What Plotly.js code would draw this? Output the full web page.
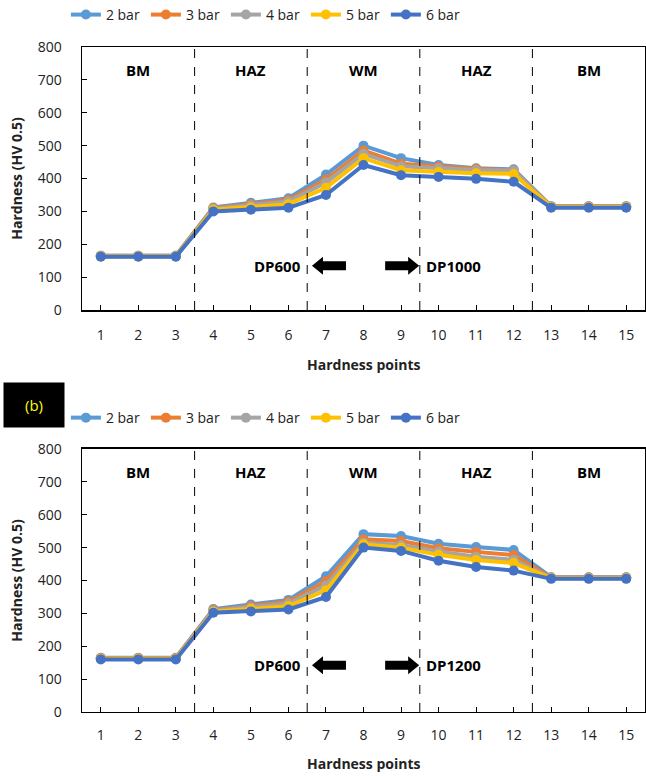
<!DOCTYPE html>
<html>
<head>
<meta charset="utf-8">
<script src="https://cdn.plot.ly/plotly-3.0.1.min.js"></script>
<style>html,body{margin:0;padding:0;background:#fff;}#chart{width:646px;height:776px;}</style>
</head>
<body>
<div id="chart"></div>
<script>
// ---- data ----
const points = [1,2,3,4,5,6,7,8,9,10,11,12,13,14,15];
const seriesNames = ["2 bar","3 bar","4 bar","5 bar","6 bar"];
const seriesColors = ["#5B9BD5","#ED7D31","#A5A5A5","#FFC000","#4472C4"];

// (a) DP600 / DP1000
const a_2bar = [165,165,165,312,326,340,412,500,462,441,431,428,316,316,316];
const a_3bar = [165,165,165,310,322,335,397,485,445,436,430,425,315,315,315];
const a_4bar = [164,164,164,308,318,330,388,475,437,431,426,424,314,314,314];
const a_5bar = [163,163,163,305,312,322,372,462,425,420,416,414,313,313,313];
const a_6bar = [162,162,162,300,305,311,350,441,410,405,399,390,311,311,311];

// (b) DP600 / DP1200
const b_2bar = [165,165,165,313,327,341,413,541,535,512,502,493,410,410,410];
const b_3bar = [164,164,164,310,322,335,398,525,520,498,487,477,409,409,409];
const b_4bar = [163,163,163,308,318,330,385,515,508,488,472,463,408,408,408];
const b_5bar = [162,162,162,305,313,322,370,510,500,478,462,453,407,407,407];
const b_6bar = [160,160,160,302,306,312,350,500,490,460,441,430,405,405,405];

const zoneLabels = ["BM","HAZ","WM","HAZ","BM"];
const zoneCenters = [2,5,8,11,14];
const zoneBounds = [3.5,6.5,9.5,12.5];
const yTicks = [0,100,200,300,400,500,600,700,800];
const xTitle = "Hardness points";
const yTitle = "Hardness (HV 0.5)";

const FONT = "Open Sans, Noto Sans, sans-serif";
const aSeries = [a_2bar,a_3bar,a_4bar,a_5bar,a_6bar];
const bSeries = [b_2bar,b_3bar,b_4bar,b_5bar,b_6bar];

const traces = [];
aSeries.forEach((ys,i)=>{
  traces.push({x:points,y:ys,name:seriesNames[i],type:"scatter",mode:"lines+markers",
    xaxis:"x",yaxis:"y",legend:"legend",
    line:{color:seriesColors[i],width:4},marker:{color:seriesColors[i],size:10}});
});
bSeries.forEach((ys,i)=>{
  traces.push({x:points,y:ys,name:seriesNames[i],type:"scatter",mode:"lines+markers",
    xaxis:"x2",yaxis:"y2",legend:"legend2",
    line:{color:seriesColors[i],width:4},marker:{color:seriesColors[i],size:10}});
});

function xAxis(anchor,labelGap){
  return {anchor:anchor,range:[0.5,15.5],tickvals:points,ticktext:points.map(String),automargin:false,
    ticks:"inside",ticklen:5,tickcolor:"#000",showline:true,linecolor:"#000",linewidth:1.5,mirror:true,
    showgrid:false,zeroline:false,tickfont:{family:FONT,size:14,color:"#222"},ticklabelstandoff:labelGap};
}
function yAxis(anchor,domain){
  return {anchor:anchor,domain:domain,range:[0,800],tickvals:yTicks,automargin:false,
    ticks:"inside",ticklen:5,tickcolor:"#000",showline:true,linecolor:"#000",linewidth:1.5,mirror:true,
    showgrid:false,zeroline:false,tickfont:{family:FONT,size:14,color:"#222"},ticklabelstandoff:16,
    title:{text:"<b>"+yTitle+"</b>",font:{family:FONT,size:14,color:"#222"},standoff:12}};
}

const shapes = [];
const annotations = [];
// arrow outline in pixels relative to its anchor
const arrowLeft = "M -17,0 L -6,9 L -6,4.5 L 17,4.5 L 17,-4.5 L -6,-4.5 L -6,-9 Z";
const arrowRight = "M 17,0 L 6,9 L 6,4.5 L -17,4.5 L -17,-4.5 L 6,-4.5 L 6,-9 Z";

[["x","y","DP1000",135],["x2","y2","DP1200",142]].forEach(([xr,yr,right,ay])=>{
  const yd = yr==="y"?"y domain":"y2 domain";
  zoneBounds.forEach(b=>{
    shapes.push({type:"line",xref:xr,yref:yd,x0:b,x1:b,y0:0,y1:1,line:{color:"#000",width:1,dash:"dash"}});
  });
  zoneLabels.forEach((t,i)=>{
    annotations.push({xref:xr,yref:yr,x:zoneCenters[i],y:730,text:"<b>"+t+"</b>",showarrow:false,
      font:{family:FONT,size:15,color:"#000"}});
  });
  annotations.push({xref:xr,yref:yr,x:6.4,y:ay,text:"<b>DP600</b>",showarrow:false,xanchor:"right",
    font:{family:FONT,size:15,color:"#000"}});
  annotations.push({xref:xr,yref:yr,x:9.62,y:ay,text:"<b>"+right+"</b>",showarrow:false,xanchor:"left",
    font:{family:FONT,size:15,color:"#000"}});
  shapes.push({type:"path",xref:xr,yref:yr,xsizemode:"pixel",ysizemode:"pixel",xanchor:7.08,yanchor:ay,
    path:arrowLeft,fillcolor:"#000",line:{width:0}});
  shapes.push({type:"path",xref:xr,yref:yr,xsizemode:"pixel",ysizemode:"pixel",xanchor:9.03,yanchor:ay,
    path:arrowRight,fillcolor:"#000",line:{width:0}});
});
// x-axis titles
annotations.push({xref:"x domain",yref:"paper",x:0.5,y:0.5309,xanchor:"center",yanchor:"middle",
  text:"<b>"+xTitle+"</b>",showarrow:false,font:{family:FONT,size:14,color:"#222"}});
annotations.push({xref:"x2 domain",yref:"paper",x:0.5,y:0.0167,xanchor:"center",yanchor:"middle",
  text:"<b>"+xTitle+"</b>",showarrow:false,font:{family:FONT,size:14,color:"#222"}});
annotations.push({xref:"paper",yref:"paper",x:-0.085,y:0.478,xanchor:"center",yanchor:"middle",text:"(b)",showarrow:false,
  bgcolor:"#000",width:58,height:42,font:{family:FONT,size:15,color:"#FFFF00"}});

const legendBase = {orientation:"h",xref:"container",yref:"container",xanchor:"left",yanchor:"middle",
  font:{family:FONT,size:14,color:"#222"},
  bgcolor:"rgba(0,0,0,0)",entrywidth:35,itemwidth:30,tracegroupgap:0};

const layout = {
  width:646,height:776,
  margin:{l:82,r:1,t:0,b:0,autoexpand:false},
  paper_bgcolor:"#fff",plot_bgcolor:"#fff",
  font:{family:FONT},
  xaxis:xAxis("y",12),
  yaxis:yAxis("x",[0.6005,0.9394]),
  xaxis2:xAxis("y2",10),
  yaxis2:yAxis("x2",[0.0825,0.4214]),
  legend:Object.assign({},legendBase,{x:0.102,y:0.9807}),
  legend2:Object.assign({},legendBase,{x:0.102,y:0.4613}),
  shapes:shapes,
  annotations:annotations,
  showlegend:true
};

Plotly.newPlot("chart",traces,layout,{displayModeBar:false,staticPlot:true});
</script>
</body>
</html>
